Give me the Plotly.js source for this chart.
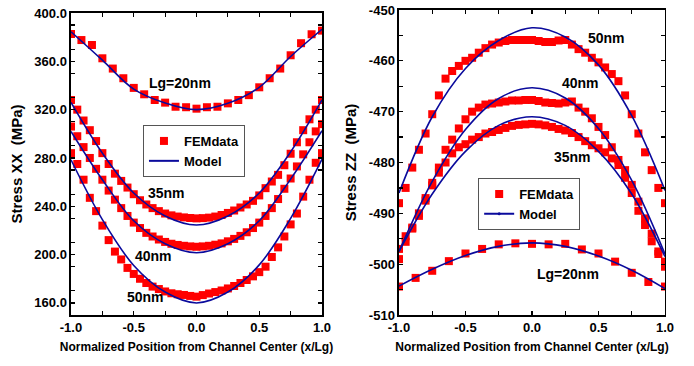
<!DOCTYPE html>
<html><head><meta charset="utf-8">
<script src="https://cdn.plot.ly/plotly-3.0.1.min.js"></script>
<style>html,body{margin:0;padding:0;background:#fff}#chart{width:694px;height:366px}</style>
</head><body><div id="chart"></div>
<script>
// ---------- DATA ----------
var xDense = [-1,-0.95,-0.9,-0.85,-0.8,-0.75,-0.7,-0.65,-0.6,-0.55,-0.5,-0.45,-0.4,-0.35,-0.3,-0.25,-0.2,-0.15,-0.1,-0.05,0,0.05,0.1,0.15,0.2,0.25,0.3,0.35,0.4,0.45,0.5,0.55,0.6,0.65,0.7,0.75,0.8,0.85,0.9,0.95,1];
var xModel = [-1,-0.75,-0.5,-0.25,0,0.25,0.5,0.75,1];
var xFemXX20 = [-1,-0.917,-0.833,-0.75,-0.667,-0.583,-0.5,-0.417,-0.333,-0.25,-0.167,-0.083,0,0.083,0.167,0.25,0.333,0.417,0.5,0.583,0.667,0.75,0.833,0.917,1];
var xFemZZ20 = [-1,-0.875,-0.75,-0.625,-0.5,-0.375,-0.25,-0.125,0,0.125,0.25,0.375,0.5,0.625,0.75,0.875,1];

// Stress XX (left)
var femXX20 = [382.6,377.6,373.5,362.5,354,346,338,332.7,328,325.8,322.4,322,320.8,322,322.4,325.2,328,332,338.5,346,354,365,375,382.4,385.4];
var femXX35 = [328,320,311,303,294,284,275,267,261,255.5,250,245,241.5,238.5,236,234,232.5,231.5,230.8,230.3,230,230.2,230.6,231.5,232.8,234.5,236.5,239,241.5,244.5,249,255,260.5,266,274,283.5,293,303,312,320,328];
var femXX40 = [306,298,289,280,271,262,253,245.5,238.5,232,226.5,222,218,215,212.5,210.5,209,208,207.3,206.8,206.5,206.8,207.3,208.2,209.3,211,213,215.5,218.5,222,226.5,232,238.5,246,254.5,263,273,283,293,302,308];
var femXX50 = [284,275,262,247,236,224,212,202.5,196,189,184,180,176.5,173.5,171.5,169.5,168,167.2,166.6,165.8,165.2,166.5,167.8,169,170.3,172,174,176.5,179,182,185.5,190,198,206,215,225,234,248,262,276,284];
var modelXX20 = [384.5,361,337,325.5,320,325.2,338.5,364,386.5];
var modelXX35 = [326,284,251,232,224.5,232,251,285,328];
var modelXX40 = [302,262,228,209,201.6,209,228,262.5,302.5];
var modelXX50 = [278.5,229,191,169,160,169,191.5,230,279];

// Stress ZZ (right)
var femZZ20 = [-504.4,-502.7,-501.3,-499.4,-497.9,-497.0,-496.1,-495.9,-496.0,-496.1,-496.0,-497.1,-497.9,-499.5,-501.7,-503.5,-504.4];
var femZZ35 = [-497,-494.5,-493,-490.5,-487.5,-484.5,-482,-480,-478.2,-477,-476.4,-475.5,-475,-474.3,-474,-473.6,-473.2,-472.8,-472.6,-472.5,-472.4,-472.5,-472.7,-473,-473.4,-473.7,-474.2,-475,-475.8,-476.6,-477.2,-478,-479.2,-480.5,-483,-486,-489.5,-492.3,-495.5,-498,-500.5];
var femZZ40 = [-499,-495.6,-492.8,-490,-487,-484,-481,-477.5,-475.5,-473.3,-471.5,-470,-469.2,-468.6,-468.4,-468.2,-468,-467.8,-467.8,-467.7,-467.7,-467.9,-468.2,-468.3,-468.4,-468.2,-468.0,-469.2,-470,-471.3,-473,-474.6,-477,-479.5,-481.5,-484.4,-487.7,-491,-494,-497.5,-499.5];
var femZZ50 = [-488,-485,-481,-477.5,-474.3,-470.5,-466.8,-463.5,-462,-461,-460,-459.4,-458.4,-457.5,-456.8,-456.4,-456.1,-455.9,-455.9,-455.9,-455.9,-456.1,-456.3,-456.3,-456.0,-455.9,-456.8,-457.7,-458.4,-459.4,-460.3,-461.3,-462.6,-464,-466.8,-470.5,-474.3,-478,-481.5,-485,-488];
var modelZZ20 = [-504.3,-501,-498.3,-496.5,-495.8,-496.5,-498.4,-501.2,-504.8];
var modelZZ35 = [-497.5,-486.2,-477.8,-472.7,-471,-472.7,-477.8,-486.2,-498.5];
var modelZZ40 = [-497.5,-483.7,-473.5,-467.4,-465.3,-467.3,-473.3,-483.5,-498];
var modelZZ50 = [-486,-471,-461.5,-456,-453.5,-455.3,-460.8,-470.8,-485.5];

var xTickVals = [-1,-0.5,0,0.5,1];
var xTickText = ['-1.0','-0.5','0.0','0.5','1.0'];
var yXXTickVals = [160,200,240,280,320,360,400];
var yXXTickText = ['160.0','200.0','240.0','280.0','320.0','360.0','400.0'];
var yZZTickVals = [-510,-500,-490,-480,-470,-460,-450];
var yZZTickText = ['-510','-500','-490','-480','-470','-460','-450'];
var legendNames = ['FEMdata','Model'];

// ---------- STYLE ----------
var RED = '#ff0000', BLUE = '#0a0a9c';
var FONT = 'Liberation Sans, Arial, sans-serif';
function fem(x, y, xa, ya) {
  return {x:x, y:y, xaxis:xa, yaxis:ya, type:'scatter', mode:'markers', showlegend:false,
    marker:{symbol:'square', size:8, color:RED, line:{width:0}}, hoverinfo:'skip'};
}
function model(x, y, xa, ya) {
  return {x:x, y:y, xaxis:xa, yaxis:ya, type:'scatter', mode:'lines', showlegend:false,
    line:{color:BLUE, width:1.6, shape:'spline', smoothing:1}, hoverinfo:'skip'};
}
var traces = [
  fem(xFemXX20, femXX20,'x','y'), fem(xDense, femXX35,'x','y'), fem(xDense, femXX40,'x','y'), fem(xDense, femXX50,'x','y'),
  model(xModel, modelXX20,'x','y'), model(xModel, modelXX35,'x','y'), model(xModel, modelXX40,'x','y'), model(xModel, modelXX50,'x','y'),
  fem(xFemZZ20, femZZ20,'x2','y2'), fem(xDense, femZZ35,'x2','y2'), fem(xDense, femZZ40,'x2','y2'), fem(xDense, femZZ50,'x2','y2'),
  model(xModel, modelZZ20,'x2','y2'), model(xModel, modelZZ35,'x2','y2'), model(xModel, modelZZ40,'x2','y2'), model(xModel, modelZZ50,'x2','y2'),
  // legend entries
  {x:[null], y:[null], xaxis:'x', yaxis:'y', name:legendNames[0], mode:'markers', legend:'legend', marker:{symbol:'square', size:8, color:RED}},
  {x:[null], y:[null], xaxis:'x', yaxis:'y', name:legendNames[1], mode:'lines', legend:'legend', line:{color:BLUE, width:2}},
  {x:[null], y:[null], xaxis:'x2', yaxis:'y2', name:legendNames[0], mode:'markers', legend:'legend2', marker:{symbol:'square', size:8, color:RED}},
  {x:[null], y:[null], xaxis:'x2', yaxis:'y2', name:legendNames[1], mode:'lines+markers', legend:'legend2', line:{color:BLUE, width:2}, marker:{size:3, color:BLUE}}
];

function xax(domain, anchor) {
  return {domain:domain, anchor:anchor, range:[-1,1], tickvals:xTickVals, ticktext:xTickText,
    ticks:'inside', ticklen:4, tickwidth:1.2, tickcolor:'#000', mirror:'ticks', showline:true, linecolor:'#000', linewidth:1.5,
    showgrid:false, zeroline:false, minor:{dtick:0.25, tick0:-1, ticks:'inside', ticklen:4, tickcolor:'#000', showgrid:false},
    tickfont:{family:FONT, size:13, color:'#000', weight:'bold'},
    title:{text:'Normalized Position from Channel Center (x/Lg)', font:{family:FONT, size:12, color:'#000', weight:'bold'}, standoff:8}};
}
function yax(domain, anchor, range, tv, tt, minorStep, title) {
  return {domain:domain, anchor:anchor, range:range, tickvals:tv, ticktext:tt,
    ticks:'inside', ticklen:4, tickwidth:1.2, tickcolor:'#000', mirror:'ticks', showline:true, linecolor:'#000', linewidth:1.5,
    showgrid:false, zeroline:false, minor:{dtick:minorStep, tick0:range[0], ticks:'inside', ticklen:4, tickcolor:'#000', showgrid:false},
    tickfont:{family:FONT, size:13, color:'#000', weight:'bold'},
    title:{text:title, font:{family:FONT, size:15, color:'#000', weight:'bold'}, standoff:8}};
}
function ann(text, x, y, xr, yr) {
  return {text:text, x:x, y:y, xref:xr, yref:yr, showarrow:false, font:{family:FONT, size:14, color:'#000', weight:'bold'}};
}
var legendBase = {xanchor:'left', yanchor:'top', bordercolor:'#555', borderwidth:1, bgcolor:'#fff',
  font:{family:FONT, size:13, color:'#000', weight:'bold'}, itemwidth:30, tracegroupgap:0};

var layout = {
  width:694, height:366, margin:{l:0, r:0, t:0, b:0}, paper_bgcolor:'#fff', plot_bgcolor:'#fff',
  showlegend:true,
  xaxis: xax([0.1023,0.4640],'y'),
  yaxis: yax([0.1393,0.9645],'x',[150,400], yXXTickVals, yXXTickText, 20, 'Stress XX  (MPa)'),
  xaxis2: xax([0.5749,0.9582],'y2'),
  yaxis2: yax([0.1393,0.9727],'x2',[-510,-450], yZZTickVals, yZZTickText, 5, 'Stress ZZ  (MPa)'),
  legend: Object.assign({x:0.206, y:0.6585}, legendBase),
  legend2: Object.assign({x:0.689, y:0.5137}, legendBase),
  annotations:[
    ann('Lg=20nm', -0.13, 342, 'x','y'),
    ann('35nm', -0.24, 251, 'x','y'),
    ann('40nm', -0.34, 199, 'x','y'),
    ann('50nm', -0.41, 165, 'x','y'),
    ann('50nm', 0.56, -455.5, 'x2','y2'),
    ann('40nm', 0.365, -464.4, 'x2','y2'),
    ann('35nm', 0.305, -478.9, 'x2','y2'),
    ann('Lg=20nm', 0.274, -502, 'x2','y2')
  ]
};
Plotly.newPlot('chart', traces, layout, {displayModeBar:false, staticPlot:true});
</script></body></html>
